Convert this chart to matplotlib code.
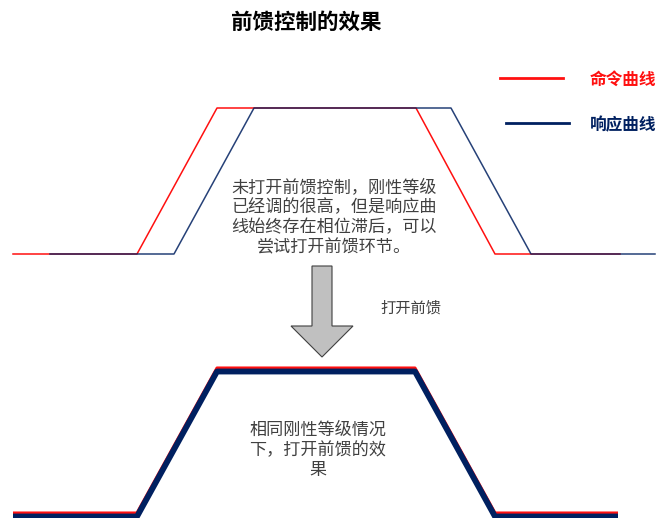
import matplotlib.pyplot as plt
from matplotlib.patches import Polygon
from matplotlib.transforms import offset_copy

plt.rcParams['font.family'] = ['Noto Sans CJK SC', 'DejaVu Sans']

# 时间点 (与画面横向对应) 和 电平 (0 = 低, 1 = 高)
cmd_t = [13, 137, 217, 416, 495, 620]
cmd_v = [0, 0, 1, 1, 0, 0]
resp_t = [50, 174, 254, 451, 531, 655]   # 未开前馈: 响应滞后
resp_v = [0, 0, 1, 1, 0, 0]
ff_cmd_t = [13, 137, 217, 415, 495, 618]
ff_resp_t = [13, 137, 217, 415, 495, 618]  # 打开前馈: 基本重合

title = '前馈控制的效果'
legend_labels = ['命令曲线', '响应曲线']
note_top = '未打开前馈控制，刚性等级\n已经调的很高，但是响应曲\n线始终存在相位滞后，可以\n尝试打开前馈环节。'
note_arrow = '打开前馈'
note_bottom = '相同刚性等级情况\n下，打开前馈的效\n果'

RED = '#ff1010'
NAVY = '#002060'
TXT = '#404040'

W, H = 659, 518
fig = plt.figure(figsize=(W / 100, H / 100), dpi=100)

# 背景轴: 像素坐标, 用于文字/箭头/图例
bg = fig.add_axes([0, 0, 1, 1])
bg.set_xlim(0, W)
bg.set_ylim(H, 0)
bg.axis('off')


def level_axes(y_low, y_high):
    ax = fig.add_axes([0, 1 - y_low / H, 1, (y_low - y_high) / H])
    ax.set_xlim(0, W)
    ax.set_ylim(0, 1)
    ax.axis('off')
    return ax


top = level_axes(254, 108)
top.plot(cmd_t, cmd_v, color=RED, lw=1.1, clip_on=False)
top.plot(resp_t, resp_v, color=NAVY, lw=1.1, alpha=0.85, clip_on=False)

bot = level_axes(513, 368)
bot.plot(ff_cmd_t, cmd_v, color=RED, lw=2.2, clip_on=False, solid_capstyle='butt')
shift = offset_copy(bot.transData, fig=fig, x=0, y=-3.5, units='dots')
bot.plot(ff_resp_t, resp_v, color=NAVY, lw=4.2, clip_on=False,
         transform=shift, solid_capstyle='butt')

# 标题
bg.text(306, 22, title, ha='center', va='center', fontsize=15.5,
        fontweight='bold', color='black')

# 图例
bg.plot([500, 563], [78, 78], color=RED, lw=2)
bg.text(590, 80, legend_labels[0], ha='left', va='center', fontsize=12,
        fontweight='bold', color=RED)
bg.plot([506, 569], [123, 123], color=NAVY, lw=2)
bg.text(590, 125, legend_labels[1], ha='left', va='center', fontsize=12,
        fontweight='bold', color=NAVY)

# 说明文字
bg.text(334, 217, note_top, ha='center', va='center', multialignment='center',
        fontsize=12.3, color=TXT, linespacing=1.15)
bg.text(380, 308, note_arrow, ha='left', va='center', fontsize=11, color=TXT)
bg.text(318, 450, note_bottom, ha='center', va='center', multialignment='center',
        fontsize=12.3, color=TXT, linespacing=1.15)

# 向下箭头
arrow = Polygon([(312, 266), (332, 266), (332, 326), (353, 326), (322, 357),
                 (291, 326), (312, 326)], closed=True,
                facecolor='#c0c0c0', edgecolor='#404040', lw=0.8)
bg.add_patch(arrow)

fig.savefig('out.png', dpi=100)
